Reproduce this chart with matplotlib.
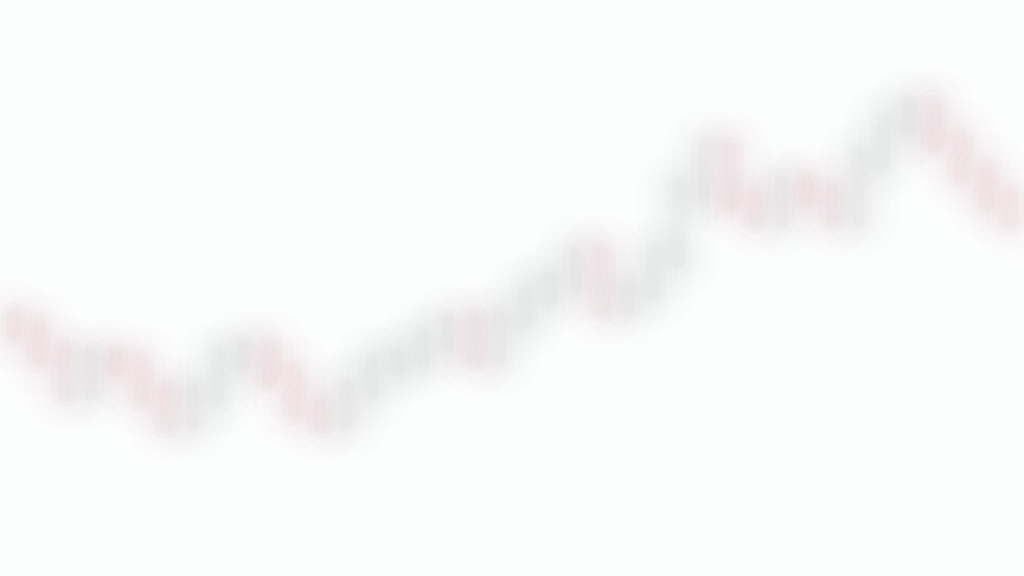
"""
Soft, washed-out candlestick backdrop (no axes), 1024x576.
    python3 plot.py
"""
import matplotlib
matplotlib.use("Agg")
import matplotlib.pyplot as plt
import numpy as np

# price series (arbitrary units)
opens = [70.0, 67.5, 61.3, 52.8, 60.0, 58.8, 51.3, 45.0, 51.3, 60.0,
         62.5, 56.3, 48.0, 45.0, 52.5, 58.8, 60.5, 65.0, 68.8, 61.3,
         70.0, 76.3, 80.0, 86.3, 73.8, 77.5, 85.8, 102.5, 112.5, 100.0,
         96.3, 103.8, 101.3, 96.3, 110.0, 118.8, 123.0, 115.0, 107.0, 100.0]
closes = [67.5, 61.3, 52.8, 60.0, 58.8, 51.3, 45.0, 51.3, 60.0, 62.5,
          56.3, 48.0, 45.0, 52.5, 58.8, 60.5, 65.0, 68.8, 61.3, 70.0,
          76.3, 80.0, 86.3, 73.8, 77.5, 85.8, 102.5, 112.5, 100.0, 96.3,
          103.8, 101.3, 96.3, 110.0, 118.8, 123.0, 115.0, 107.0, 100.0, 95.5]
highs = [71.5, 69.0, 62.5, 61.5, 61.0, 59.5, 52.5, 52.5, 61.5, 63.5,
         63.5, 57.5, 49.0, 54.0, 60.0, 61.5, 66.5, 70.0, 69.5, 71.0,
         77.5, 81.0, 87.5, 87.0, 78.5, 87.0, 104.0, 114.0, 113.0, 101.0,
         105.0, 104.5, 102.0, 111.5, 120.0, 124.5, 123.5, 115.5, 108.0, 101.0]
lows = [66.5, 60.0, 51.5, 51.5, 57.5, 50.0, 43.5, 44.0, 50.0, 59.0,
        55.0, 47.0, 43.5, 44.0, 51.5, 57.5, 59.5, 64.0, 60.0, 60.5,
        69.0, 75.0, 79.0, 72.5, 72.5, 76.5, 84.5, 101.5, 99.0, 95.0,
        95.0, 100.0, 95.0, 95.0, 109.0, 117.5, 114.0, 106.0, 99.0, 94.5]

UP = "#b2b8b8"
DOWN = "#d29aa8"
BG = "#fcfdfd"

fig = plt.figure(figsize=(10.24, 5.76), dpi=100, facecolor=BG)
ax = fig.add_axes([0, 0, 1, 1]); ax.set_facecolor(BG); ax.axis("off")

x = np.arange(len(closes))
for i in x:
    o, c, h, l = opens[i], closes[i], highs[i], lows[i]
    col = UP if c >= o else DOWN
    # stacked wide, faint strokes imitate the heavy blur
    for lw, a in [(58, 0.014), (46, 0.018), (36, 0.022), (27, 0.026), (19, 0.028), (12, 0.025)]:
        ax.plot([i, i], [min(o, c), max(o, c)], color=col, lw=lw, alpha=a,
                solid_capstyle="round")
    for lw, a in [(18, 0.015), (9, 0.02)]:
        ax.plot([i, i], [l, h], color=col, lw=lw, alpha=a, solid_capstyle="round")

ax.set_xlim(-0.5, len(closes) - 0.5)
ax.set_ylim(6, 150)
fig.savefig("out.png", dpi=100, facecolor=BG)
